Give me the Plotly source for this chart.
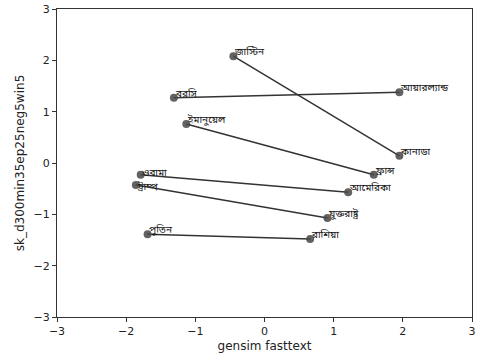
import plotly.graph_objects as go

starts = ["জাস্টিন", "বরসি", "ইমানুয়েল", "ওবামা", "ট্রাম্প", "পুতিন"]
start_x = [-0.45, -1.31, -1.13, -1.79, -1.86, -1.69]
start_y = [2.08, 1.27, 0.76, -0.23, -0.43, -1.39]
ends = ["কানাডা", "আয়ারল্যান্ড", "ফ্রান্স", "আমেরিকা", "যুক্তরাষ্ট্র", "রাশিয়া"]
end_x = [1.95, 1.95, 1.58, 1.21, 0.91, 0.66]
end_y = [0.14, 1.38, -0.23, -0.57, -1.07, -1.48]

fig = go.Figure()
for i in range(len(starts)):
    fig.add_trace(go.Scatter(
        x=[start_x[i], end_x[i]], y=[start_y[i], end_y[i]],
        mode="lines+markers",
        line=dict(color="#333333", width=1.5),
        marker=dict(color="rgba(70,70,70,0.85)", size=8),
        hoverinfo="skip", showlegend=False))

all_lbl = starts + ends
all_x = start_x + end_x
all_y = start_y + end_y
shift_adj = {"ওবামা": -2, "ট্রাম্প": -6}
for lbl, x, y in zip(all_lbl, all_x, all_y):
    fig.add_annotation(x=x, y=y, text=lbl, showarrow=False,
                       xanchor="left", yanchor="bottom", xshift=-1,
                       yshift=-5 + shift_adj.get(lbl, 0) + (2 if lbl == "ওবামা" else 0) * 0,
                       font=dict(family="Noto Sans Bengali, Noto Sans, DejaVu Sans", size=10, color="#111"))

axis_common = dict(range=[-3, 3], tickvals=[-3, -2, -1, 0, 1, 2, 3],
                   ticktext=["−3", "−2", "−1", "0", "1", "2", "3"],
                   showgrid=False, zeroline=False, showline=True, mirror=True,
                   linecolor="#333", linewidth=1, ticks="outside", ticklen=4,
                   tickcolor="#333", automargin=False,
                   tickfont=dict(family="DejaVu Sans", size=11, color="#222"))
fig.update_xaxes(**axis_common, title=dict(text="gensim fasttext", standoff=4,
                 font=dict(family="DejaVu Sans", size=12, color="#222")))
fig.update_yaxes(**axis_common, title=dict(text="sk_d300min35ep25neg5win5", standoff=6,
                 font=dict(family="DejaVu Sans", size=12, color="#222")))
fig.update_layout(width=479, height=362, margin=dict(l=57, r=7, t=9, b=45),
                  plot_bgcolor="white", paper_bgcolor="white")
fig.write_html("out.html")
